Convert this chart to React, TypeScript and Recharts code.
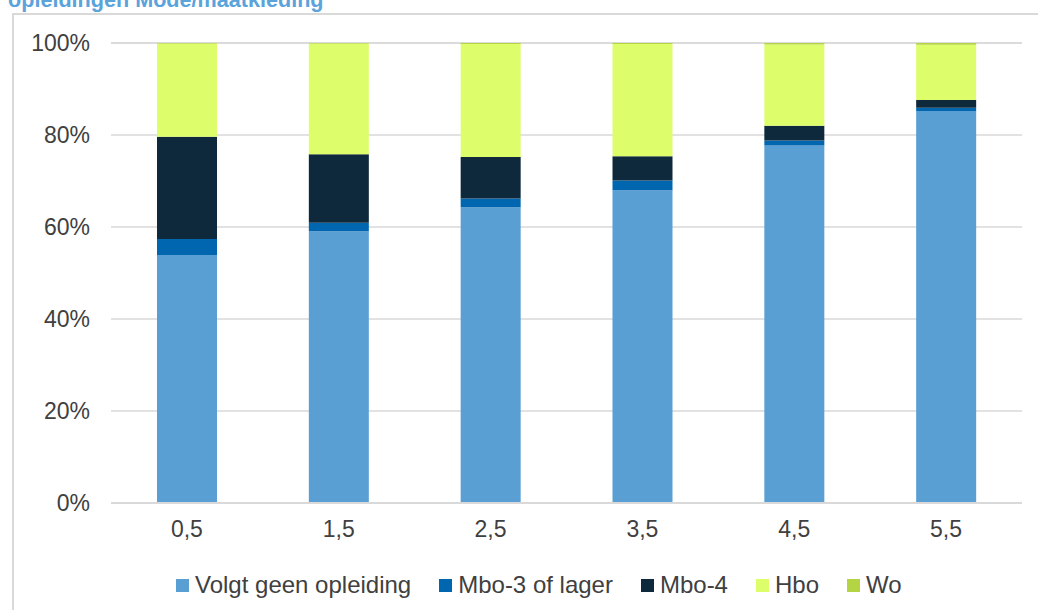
import React from "react";
import { BarChart, Bar, XAxis, YAxis, CartesianGrid, Legend } from "recharts";

const categories = ["0,5", "1,5", "2,5", "3,5", "4,5", "5,5"];
const volgtGeen = [53.9, 59.1, 64.3, 68.0, 77.7, 85.2];
const mbo3 = [3.5, 1.8, 1.9, 2.1, 1.1, 0.7];
const mbo4 = [22.2, 14.9, 9.0, 5.3, 3.2, 1.7];
const hbo = [20.3, 24.1, 24.6, 24.4, 17.7, 12.0];
const wo = [0.1, 0.1, 0.2, 0.2, 0.3, 0.4];
const yTicks = [0, 20, 40, 60, 80, 100];

const series = [
  { key: "volgt", name: "Volgt geen opleiding", color: "#599FD3" },
  { key: "mbo3", name: "Mbo-3 of lager", color: "#0066B0" },
  { key: "mbo4", name: "Mbo-4", color: "#0E283C" },
  { key: "hbo", name: "Hbo", color: "#DDFD6A" },
  { key: "wo", name: "Wo", color: "#B4D443" },
];

const data = categories.map((c, i) => ({
  cat: c,
  volgt: volgtGeen[i],
  mbo3: mbo3[i],
  mbo4: mbo4[i],
  hbo: hbo[i],
  wo: wo[i],
}));

const font = "'Liberation Sans', Arial, sans-serif";

function LegendContent() {
  return (
    <div
      style={{
        height: 40,
        display: "flex",
        justifyContent: "flex-start",
        alignItems: "center",
        fontFamily: font,
        fontSize: 24,
        color: "#404040",
        paddingLeft: 176,
      }}
    >
      {series.map((s) => (
        <div key={s.key} style={{ display: "flex", alignItems: "center", marginRight: 28 }}>
          <span style={{ width: 13, height: 13, background: s.color, marginRight: 6, display: "inline-block" }} />
          <span>{s.name}</span>
        </div>
      ))}
    </div>
  );
}

export default function App() {
  return (
    <div
      style={{
        position: "absolute",
        left: 0,
        top: 0,
        width: 1038,
        height: 610,
        overflow: "hidden",
        background: "#fff",
      }}
    >
      <div
        style={{
          position: "absolute",
          left: 12,
          top: 13,
          width: 1100,
          height: 700,
          border: "2px solid #D9D9D9",
          boxSizing: "border-box",
        }}
      />
      <div
        style={{
          position: "absolute",
          left: 8,
          top: -11,
          fontFamily: font,
          fontWeight: "bold",
          fontSize: 21.6,
          lineHeight: 1,
          color: "#5BA3DB",
          whiteSpace: "nowrap",
        }}
      >
        opleidingen Mode/maatkleding
      </div>
      <div style={{ position: "absolute", left: 0, top: 0 }}>
        <BarChart
          width={1038}
          height={610}
          data={data}
          margin={{ top: 43, right: 16, left: 0, bottom: 5 }}
          barSize={60}
        >
          <CartesianGrid vertical={false} stroke="#D9D9D9" strokeWidth={1.5} />
          <XAxis
            dataKey="cat"
            height={62}
            axisLine={{ stroke: "#D9D9D9", strokeWidth: 2 }}
            tickLine={false}
            tickSize={0}
            tickMargin={18}
            tick={{ fontSize: 23, fill: "#404040", fontFamily: font }}
          />
          <YAxis
            width={111}
            domain={[0, 100]}
            ticks={yTicks}
            axisLine={false}
            tickLine={false}
            tickSize={0}
            tickMargin={21}
            tickFormatter={(v) => `${v}%`}
            tick={{ fontSize: 23, fill: "#404040", fontFamily: font }}
          />
          <Legend verticalAlign="bottom" content={<LegendContent />} />
          {series.map((s) => (
            <Bar
              key={s.key}
              dataKey={s.key}
              name={s.name}
              stackId="a"
              fill={s.color}
              isAnimationActive={false}
            />
          ))}
        </BarChart>
      </div>
    </div>
  );
}
